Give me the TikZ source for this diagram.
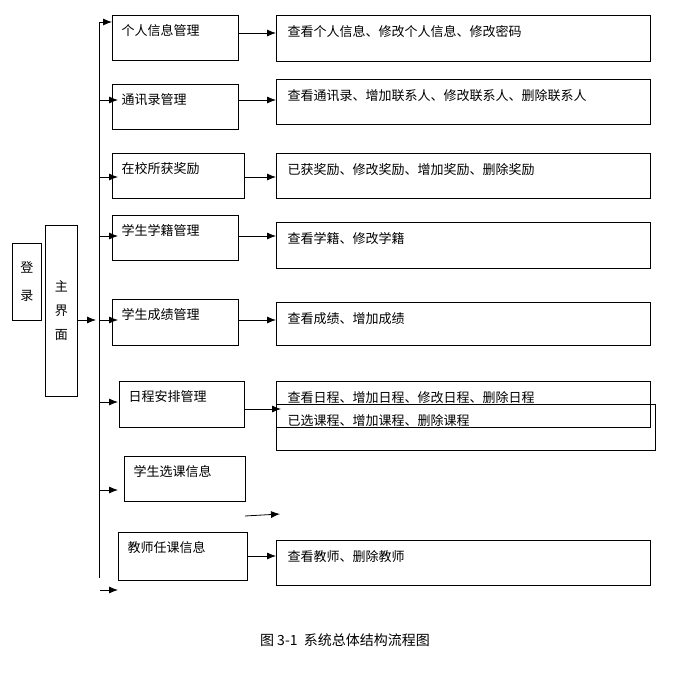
\documentclass[tikz,border=0pt]{standalone}
\usepackage{fontspec}
\newfontfamily\cjk{Noto Sans CJK SC}
\usetikzlibrary{arrows.meta}
\begin{document}
\begin{tikzpicture}[x=1pt,y=-1pt,
  box/.style={draw,thick,font=\cjk\fontsize{13}{15}\selectfont,anchor=north west,inner sep=0pt},
  lbl/.style={font=\cjk\fontsize{13}{15}\selectfont,anchor=west},
  arr/.style={-{Latex[length=9pt,width=7pt]},thick}]
\useasboundingbox (0,0) rectangle (691,690);
\node[box,minimum width=29pt,minimum height=77pt] (login) at (12,243) {\shortstack{登\\[14pt]录}};
\node[box,minimum width=32pt,minimum height=171pt] (main) at (45,225) {\shortstack{主\\[10pt]界\\[10pt]面}};
% left boxes
\foreach \n/\x/\y/\w/\h/\t in {
 a/112/15/126/45/个人信息管理, b/112/84/126/45/通讯录管理, c/112/153/132/45/在校所获奖励,
 d/112/215/126/45/学生学籍管理, e/112/299/126/46/学生成绩管理, f/119/381/125/46/日程安排管理,
 g/124/456/121/45/学生选课信息, h/118/532/129/48/教师任课信息}{
 \node[box,minimum width=\w pt,minimum height=\h pt] (\n) at (\x,\y) {};
 \node[lbl] at (\x+6,\y+16) {\t};
}
% right boxes
\foreach \n/\y/\h/\t in {
 ra/15/46/查看个人信息、修改个人信息、修改密码, rb/79/45/查看通讯录、增加联系人、修改联系人、删除联系人,
 rc/153/45/已获奖励、修改奖励、增加奖励、删除奖励, rd/222/46/查看学籍、修改学籍,
 re/302/43/查看成绩、增加成绩, rf/381/46/查看日程、增加日程、修改日程、删除日程, rh/540/45/查看教师、删除教师}{
 \node[box,minimum width=374pt,minimum height=\h pt] (\n) at (276,\y) {};
 \node[lbl] at (284,\y+17) {\t};
}
\node[box,minimum width=379pt,minimum height=46pt] (rg) at (276,404) {};
\node[lbl] at (284,421) {已选课程、增加课程、删除课程};
% trunk
\coordinate (t0) at (99,578);
\coordinate (t1) at (99,22);
\draw[thick] (t0) -- (t1);
\draw[arr] (t1) -- (a.west |- 0,22);
\draw[arr] (main.east |- 0,320) -- (96,320);
\foreach \n/\y in {b/100,c/177,d/236,e/320,f/402,g/490,h/590}{
 \coordinate (s\n) at (100,\y);
 \draw[arr] (s\n) -- (118,\y);
}
\draw[arr] (a.east |- 0,33) -- (ra.west |- 0,33);
\draw[arr] (b.east |- 0,100) -- (rb.west |- 0,100);
\draw[arr] (c.east |- 0,177) -- (rc.west |- 0,177);
\draw[arr] (d.east |- 0,236) -- (rd.west |- 0,236);
\draw[arr] (e.east |- 0,320) -- (re.west |- 0,320);
\draw[arr] (f.east |- 0,409) -- (281,409);
\coordinate (fa) at (245,516); \coordinate (fb) at (280,514);
\draw[arr] (fa) -- (fb);
\draw[arr] (h.east |- 0,556) -- (rh.west |- 0,556);
\node[font=\cjk\fontsize{14}{16}\selectfont] (cap) at (345,640) {图 3-1\ \ 系统总体结构流程图};
\end{tikzpicture}
\end{document}
